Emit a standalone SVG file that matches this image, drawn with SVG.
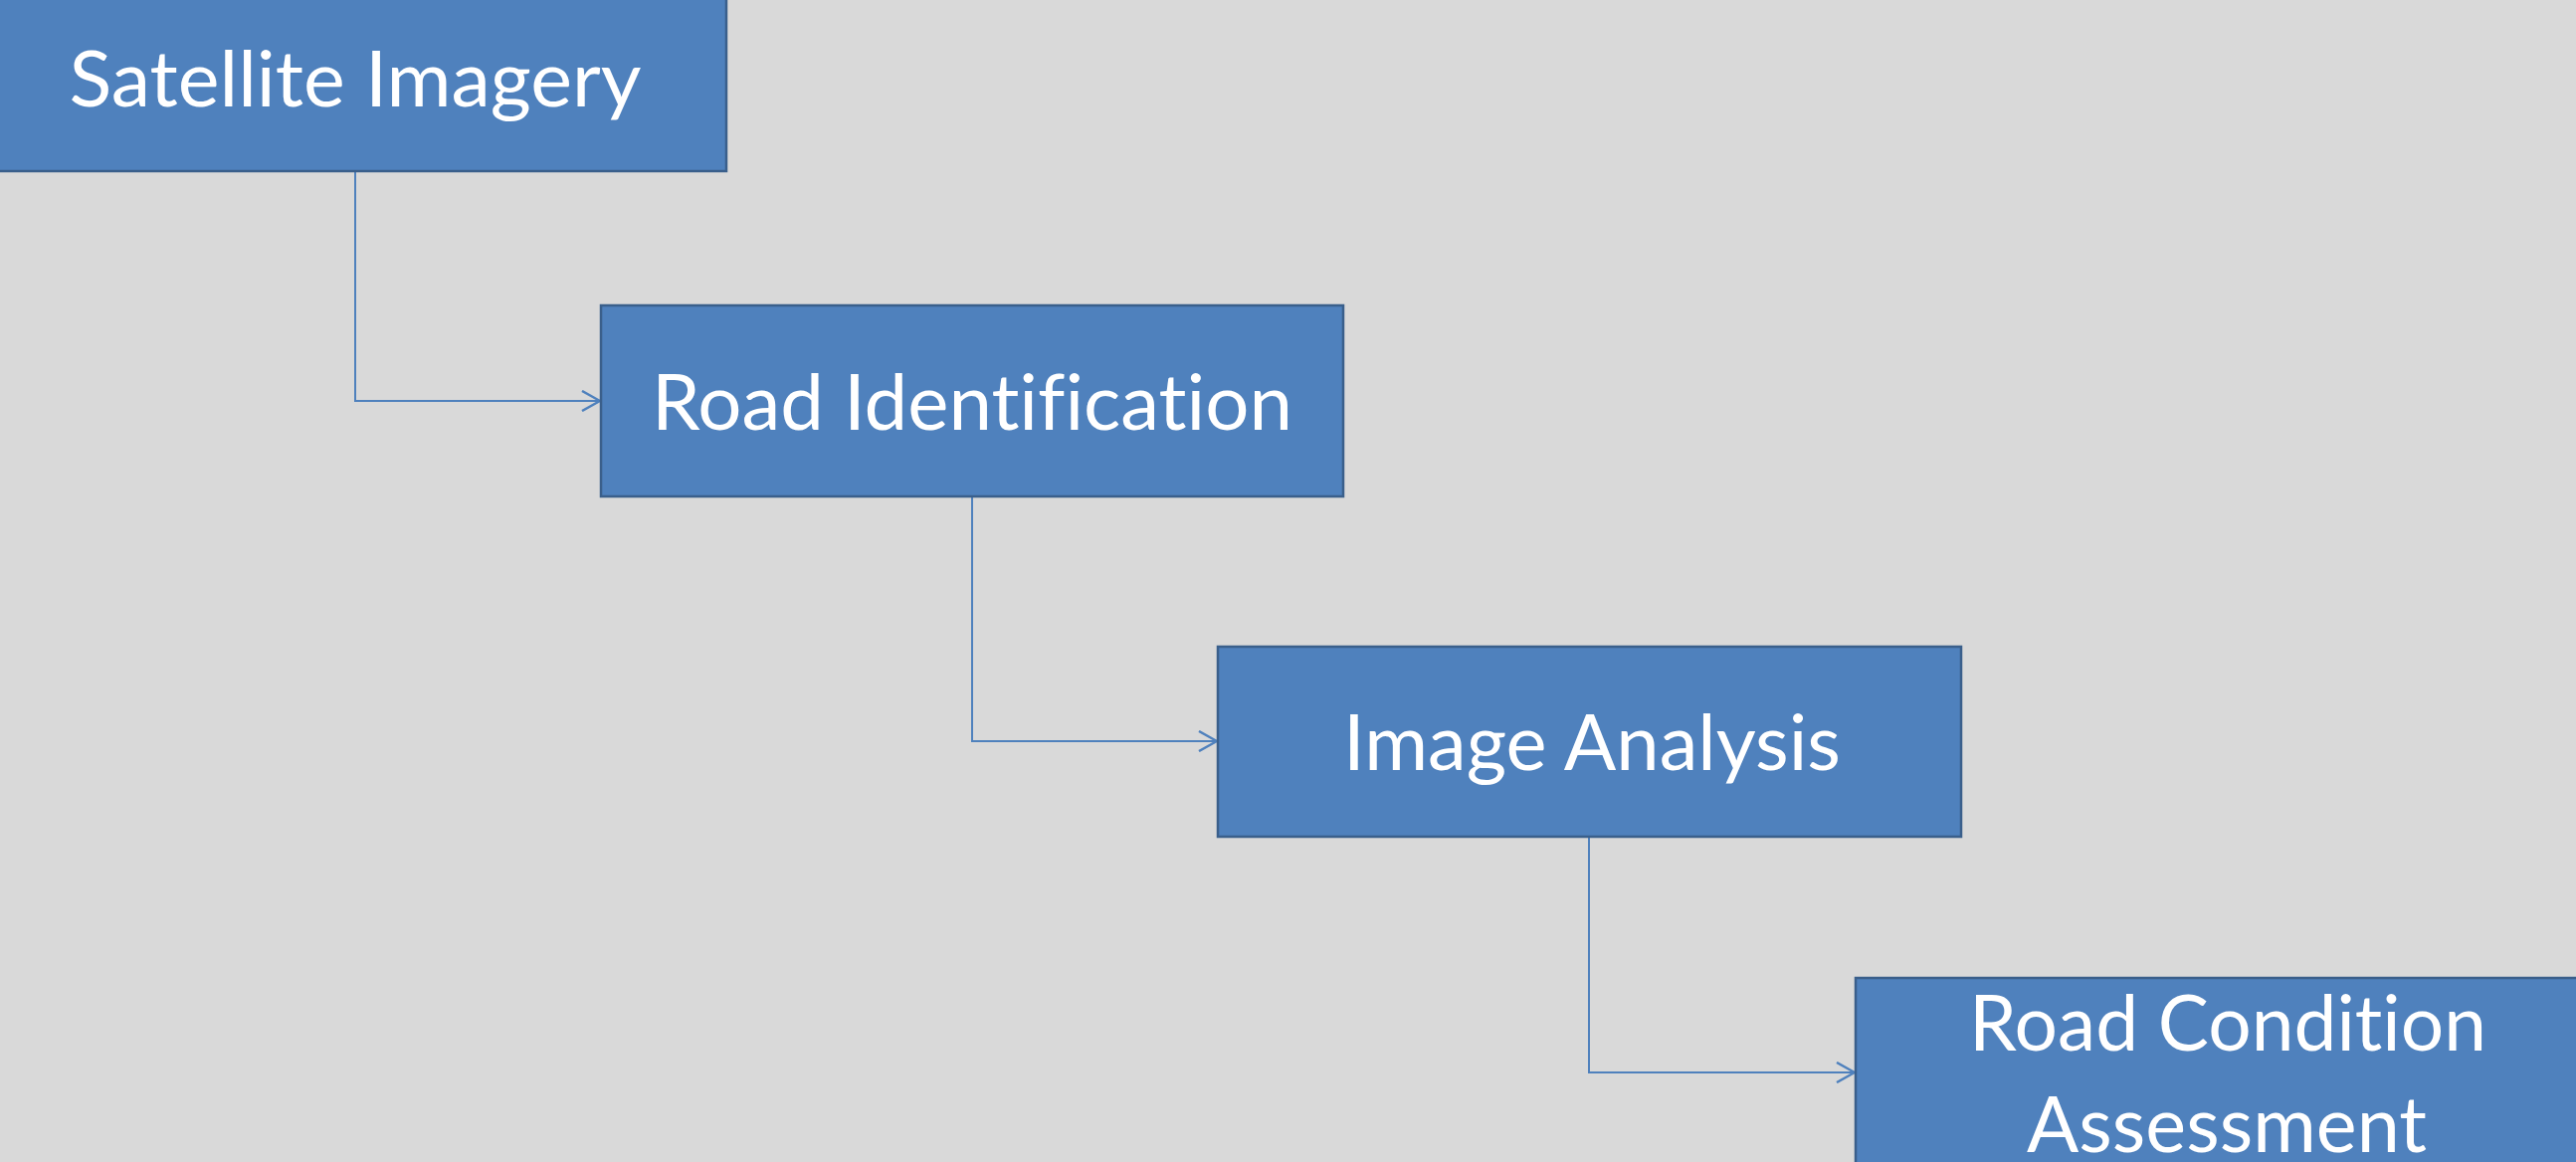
<svg xmlns="http://www.w3.org/2000/svg" width="2589" height="1168" viewBox="0 0 2589 1168">
  <style>
    .box { fill: #4F81BD; stroke: #3A5F8B; stroke-width: 2.5; }
    .label { fill: #FFFFFF; font-family: Lato, "Open Sans", "Liberation Sans", sans-serif; font-size: 78px; text-anchor: middle; font-variant-ligatures: none; font-feature-settings: "liga" 0, "clig" 0; }
    .link { fill: none; stroke: #4F81BD; stroke-width: 2; }
  </style>
  <defs>
    <marker id="chevron" viewBox="0 0 20 22" refX="19" refY="11" markerWidth="20" markerHeight="22" markerUnits="userSpaceOnUse" orient="auto">
      <path d="M1,1 L19,11 L1,21" fill="none" stroke="#4F81BD" stroke-width="2.5"/>
    </marker>
  </defs>

  <rect x="0" y="0" width="2589" height="1168" fill="#D9D9D9"/>

  <g id="connectors">
    <path class="link" d="M357,172 V403 H603" marker-end="url(#chevron)"/>
    <path class="link" d="M977,499 V745 H1223" marker-end="url(#chevron)"/>
    <path class="link" d="M1597,841 V1078 H1864" marker-end="url(#chevron)"/>
  </g>

  <g id="node-satellite-imagery">
    <rect class="box" x="-16" y="-20" width="746" height="192"/>
    <text class="label" x="357" y="107" textLength="575" lengthAdjust="spacingAndGlyphs">Satellite Imagery</text>
  </g>

  <g id="node-road-identification">
    <rect class="box" x="604" y="307" width="746" height="192"/>
    <text class="label" x="977" y="432" textLength="644" lengthAdjust="spacingAndGlyphs">Road Identification</text>
  </g>

  <g id="node-image-analysis">
    <rect class="box" x="1224" y="650" width="747" height="191"/>
    <text class="label" x="1600" y="774" textLength="500" lengthAdjust="spacingAndGlyphs">Image Analysis</text>
  </g>

  <g id="node-road-condition-assessment">
    <rect class="box" x="1865" y="983" width="747" height="192"/>
    <text class="label" x="2239" y="1056" textLength="520" lengthAdjust="spacingAndGlyphs">Road Condition</text>
    <text class="label" x="2238" y="1158" textLength="402" lengthAdjust="spacingAndGlyphs">Assessment</text>
  </g>
</svg>
